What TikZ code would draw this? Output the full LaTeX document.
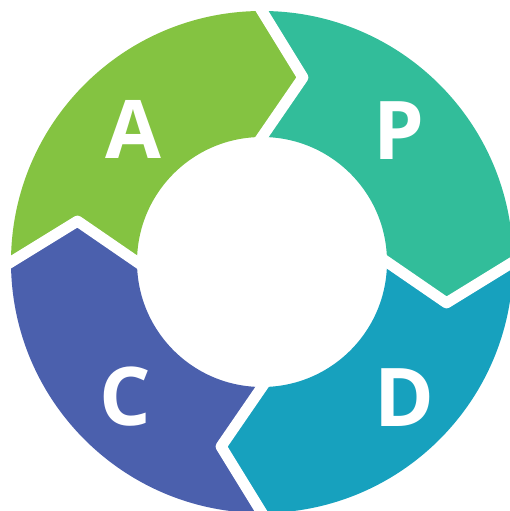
\documentclass[tikz,border=0pt]{standalone}
\usepackage{fontspec}
\setmainfont{Open Sans}
\usetikzlibrary{calc}
\definecolor{actgreen}{HTML}{84C341}
\definecolor{planteal}{HTML}{32BD9A}
\definecolor{doblue}{HTML}{17A1BE}
\definecolor{checkblue}{HTML}{4B60AD}
\tikzset{
  letter/.style={text=white,font=\fontsize{81}{81}\selectfont\bfseries},
  gap/.style={white,line width=11pt,line join=round}
}
\begin{document}
\begin{tikzpicture}[x=1pt,y=1pt]
  \useasboundingbox (-262,-249) rectangle (247,262);
  % the four quarters of the ring
  \fill[actgreen] (180:251) arc[start angle=180,end angle=90,radius=251]
    -- (77.5:189) -- (90:125) arc[start angle=90,end angle=180,radius=125]
    -- (167.5:189) -- cycle;
  \fill[planteal] (90:251) arc[start angle=90,end angle=0,radius=251]
    -- (-12.5:189) -- (0:125) arc[start angle=0,end angle=90,radius=125]
    -- (77.5:189) -- cycle;
  \fill[doblue] (0:251) arc[start angle=0,end angle=-90,radius=251]
    -- (-102.5:189) -- (-90:125) arc[start angle=-90,end angle=0,radius=125]
    -- (-12.5:189) -- cycle;
  \fill[checkblue] (-90:251) arc[start angle=-90,end angle=-180,radius=251]
    -- (167.5:189) -- (180:125) arc[start angle=180,end angle=270,radius=125]
    -- (-102.5:189) -- cycle;
  % white chevrons between the quarters
  \draw[gap] ($(90:125)!-0.3!(77.5:189)$) -- (77.5:189) -- ($(90:251)!-0.3!(77.5:189)$);
  \draw[gap] ($(0:125)!-0.3!(-12.5:189)$) -- (-12.5:189) -- ($(0:251)!-0.3!(-12.5:189)$);
  \draw[gap] ($(-90:125)!-0.3!(-102.5:189)$) -- (-102.5:189) -- ($(-90:251)!-0.3!(-102.5:189)$);
  \draw[gap] ($(180:125)!-0.3!(167.5:189)$) -- (167.5:189) -- ($(180:251)!-0.3!(167.5:189)$);
  % letters
  \node[letter] (act) at (-129,133) {A};
  \node[letter] (plan) at (137,131) {P};
  \node[letter] (do) at (142,-136) {D};
  \node[letter] (check) at (-137,-135) {C};
\end{tikzpicture}
\end{document}
